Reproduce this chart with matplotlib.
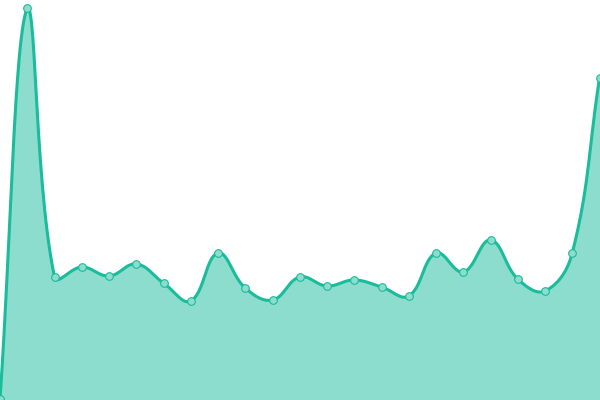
import matplotlib
matplotlib.use("Agg")
import matplotlib.pyplot as plt
import numpy as np

# heights of each point (pixel-ish units above the bottom edge)
values = [1, 392, 123, 133, 124, 136, 117, 99, 147, 112, 100, 123,
          114, 120, 113, 104, 147, 128, 160, 121, 109, 147, 322]
labels = list(range(len(values)))

line_color = "#1abc9c"
fill_color = "#8cddcd"
tension = 0.4


def spline_path(pts, left, right, bottom, top, steps=30):
    # chart.js style cubic bezier with control points capped to the area
    n = len(pts)
    cps = []
    for i in range(n):
        prev = pts[max(i - 1, 0)]
        cur = pts[i]
        nxt = pts[min(i + 1, n - 1)]
        d01 = np.hypot(*(cur - prev))
        d12 = np.hypot(*(nxt - cur))
        tot = d01 + d12
        s01 = d01 / tot if tot else 0
        s12 = d12 / tot if tot else 0
        fa = tension * s01
        fb = tension * s12
        cp_prev = cur - fa * (nxt - prev)
        cp_next = cur + fb * (nxt - prev)
        cp_prev = np.array([np.clip(cp_prev[0], left, right), np.clip(cp_prev[1], bottom, top)])
        cp_next = np.array([np.clip(cp_next[0], left, right), np.clip(cp_next[1], bottom, top)])
        cps.append((cp_prev, cp_next))
    out = []
    t = np.linspace(0, 1, steps)[:, None]
    for i in range(n - 1):
        p0 = pts[i]
        p1 = cps[i][1]
        p2 = cps[i + 1][0]
        p3 = pts[i + 1]
        seg = ((1 - t) ** 3) * p0 + 3 * ((1 - t) ** 2) * t * p1 + 3 * (1 - t) * t ** 2 * p2 + t ** 3 * p3
        out.append(seg if i == 0 else seg[1:])
    return np.vstack(out)


fig = plt.figure(figsize=(6, 4), dpi=100)
ax = fig.add_axes([0, 0, 1, 1])
ax.set_xlim(0, (len(values) - 1) * 600 / 599.5)
ax.set_ylim(0, 400)
ax.axis("off")

# work in display space so the curve tension matches pixel distances
disp = ax.transData.transform(np.column_stack([labels, values]).astype(float))
x0, y0 = ax.transData.transform((0, 0))
x1, y1 = ax.transData.transform((ax.get_xlim()[1], 400))
curve_disp = spline_path(disp, x0, x1, y0, y1)
curve = ax.transData.inverted().transform(curve_disp)

ax.fill_between(curve[:, 0], curve[:, 1], 0, color=fill_color, linewidth=0, zorder=1)
ax.plot(curve[:, 0], curve[:, 1], color=line_color, linewidth=2.2, solid_capstyle="round", zorder=2)
ax.plot(labels, values, linestyle="none", marker="o", markersize=5.5,
        markerfacecolor=fill_color, markeredgecolor=line_color, markeredgewidth=0.8,
        zorder=3)

fig.savefig("out.png", dpi=100)
